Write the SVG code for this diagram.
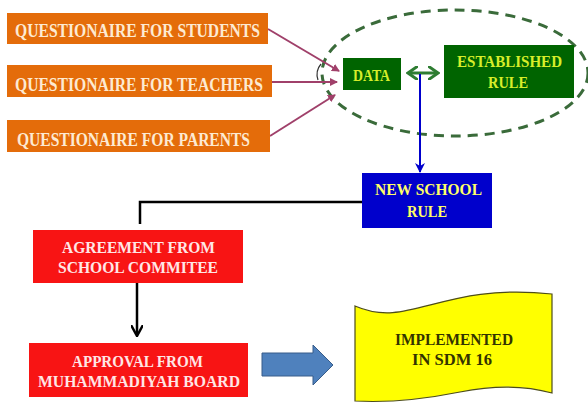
<svg xmlns="http://www.w3.org/2000/svg" width="588" height="405" viewBox="0 0 588 405">
<defs>
<style>
text{font-family:'Liberation Serif','Times New Roman',Times,serif;font-weight:bold;text-anchor:middle;}
.q{fill:#E46C0A;}
.qt{fill:#FDEAD2;font-size:18px;}
.r{fill:#F81414;}
.rt{fill:#FFE6E6;font-size:17px;}
.g{fill:#006400;}
.gt{fill:#D7EE2A;font-size:17px;}
.b{fill:#0000CC;}
.bt{fill:#FFFF66;font-size:17px;}
.yt{fill:#333300;font-size:17px;}
.pl{stroke:#A0406A;stroke-width:2;fill:none;}
</style>
<marker id="mp" markerWidth="8" markerHeight="8" refX="7" refY="4" orient="auto" markerUnits="userSpaceOnUse"><path d="M0,0 L8,4 L0,8 Z" fill="#A0406A"/></marker>
<marker id="mb" markerWidth="10" markerHeight="10" refX="9" refY="5" orient="auto" markerUnits="userSpaceOnUse"><path d="M0,0 L10,5 L0,10 L3,5 Z" fill="#0000CC"/></marker>
<marker id="mk" markerWidth="12" markerHeight="12" refX="10" refY="6" orient="auto" markerUnits="userSpaceOnUse"><path d="M0,0 L11,6 L0,12" fill="none" stroke="#000" stroke-width="2.5"/></marker>
<marker id="mg" markerWidth="12" markerHeight="14" refX="10" refY="7" orient="auto-start-reverse" markerUnits="userSpaceOnUse"><path d="M0,0 L10,7 L0,14" fill="none" stroke="#2E7D32" stroke-width="3"/></marker>
</defs>
<rect width="588" height="405" fill="#FFFFFF"/>

<g id="group-ellipse">
<ellipse cx="455" cy="73" rx="133" ry="63" fill="none" stroke="#3A6B3A" stroke-width="3" stroke-dasharray="10,7"/>
</g>

<g id="connectors">
<line class="pl" x1="268" y1="29" x2="339" y2="71" marker-end="url(#mp)"/>
<line class="pl" x1="272" y1="82" x2="337" y2="82" marker-end="url(#mp)"/>
<line class="pl" x1="270" y1="136" x2="335" y2="95" marker-end="url(#mp)"/>
<path d="M321,64 Q315,71 318,80" fill="none" stroke="#333" stroke-width="1.2"/>
<line x1="408" y1="73" x2="438" y2="73" stroke="#2E7D32" stroke-width="3" marker-start="url(#mg)" marker-end="url(#mg)"/>
<line x1="420" y1="74" x2="420" y2="172" stroke="#0000CC" stroke-width="2" marker-end="url(#mb)"/>
<polyline points="362,202 140,202 140,224" fill="none" stroke="#000" stroke-width="2.5"/>
<line x1="137" y1="283" x2="137" y2="335" stroke="#000" stroke-width="2.5" marker-end="url(#mk)"/>
<path d="M262,353 L313,353 L313,345 L333,365 L313,385 L313,376 L262,376 Z" fill="#4F81BD" stroke="#385D8A" stroke-width="1"/>
</g>

<g id="q-students">
<rect class="q" x="7" y="13" width="261" height="31"/>
<text class="qt" x="137.5" y="37" textLength="245" lengthAdjust="spacingAndGlyphs">QUESTIONAIRE  FOR STUDENTS</text>
</g>
<g id="q-teachers">
<rect class="q" x="7" y="65" width="265" height="32"/>
<text class="qt" x="139" y="91" textLength="248" lengthAdjust="spacingAndGlyphs">QUESTIONAIRE  FOR TEACHERS</text>
</g>
<g id="q-parents">
<rect class="q" x="7" y="120" width="263" height="32"/>
<text class="qt" x="133.5" y="146" textLength="233" lengthAdjust="spacingAndGlyphs">QUESTIONAIRE  FOR PARENTS</text>
</g>

<g id="data">
<rect class="g" x="343" y="58" width="58" height="32"/>
<text class="gt" x="371.5" y="81" textLength="37" lengthAdjust="spacingAndGlyphs">DATA</text>
</g>
<g id="established-rule">
<rect class="g" x="444" y="45" width="130" height="53"/>
<text class="gt" x="509.5" y="67" textLength="105" lengthAdjust="spacingAndGlyphs">ESTABLISHED</text>
<text class="gt" x="508" y="88" textLength="40" lengthAdjust="spacingAndGlyphs">RULE</text>
</g>

<g id="new-school-rule">
<rect class="b" x="362" y="173" width="130" height="55"/>
<text class="bt" x="428.5" y="195" textLength="107" lengthAdjust="spacingAndGlyphs">NEW SCHOOL</text>
<text class="bt" x="427" y="217" textLength="40" lengthAdjust="spacingAndGlyphs">RULE</text>
</g>

<g id="agreement">
<rect class="r" x="33" y="230" width="210" height="53"/>
<text class="rt" x="138.5" y="253" textLength="153" lengthAdjust="spacingAndGlyphs">AGREEMENT  FROM</text>
<text class="rt" x="138" y="273" textLength="160" lengthAdjust="spacingAndGlyphs">SCHOOL COMMITEE</text>
</g>

<g id="approval">
<rect class="r" x="29" y="343" width="219" height="54"/>
<text class="rt" x="137.5" y="367" textLength="131" lengthAdjust="spacingAndGlyphs">APPROVAL FROM</text>
<text class="rt" x="139" y="387" textLength="202" lengthAdjust="spacingAndGlyphs">MUHAMMADIYAH  BOARD</text>
</g>

<g id="implemented">
<path d="M355,306 C410,330 440,282 552,294 L552,393 C520,384 490,386 460,392 C430,398 390,403 355,401 Z" fill="#FFFF00" stroke="#4D4D1A" stroke-width="1.2"/>
<text class="yt" x="454" y="345" textLength="118" lengthAdjust="spacingAndGlyphs">IMPLEMENTED</text>
<text class="yt" x="452" y="365" textLength="80" lengthAdjust="spacingAndGlyphs">IN SDM 16</text>
</g>
</svg>
